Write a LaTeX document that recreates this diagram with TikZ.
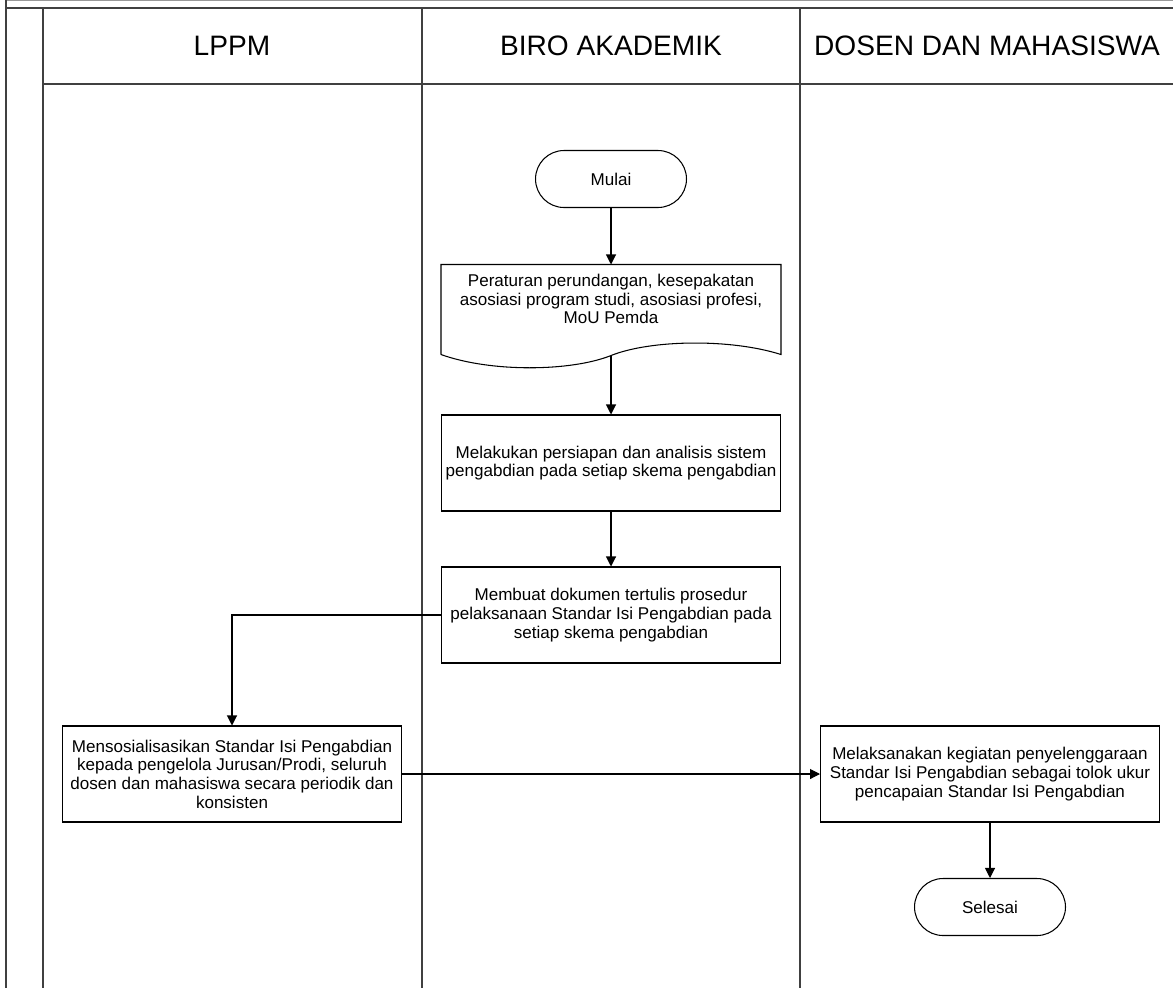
\documentclass[tikz,border=0pt]{standalone}
\usepackage{fontspec}
\setmainfont{Liberation Sans}
\usetikzlibrary{shapes, arrows.meta, positioning, calc}

\begin{document}
\begin{tikzpicture}[
    x=0.02cm, y=-0.02cm,
    lane/.style={draw=black!75, line width=1.1pt},
    head/.style={font=\fontsize{16}{19}\selectfont},
    box/.style={rectangle, draw, line width=0.6pt, minimum width=6.78cm, minimum height=1.92cm, align=center, font=\fontsize{9.7}{10.6}\selectfont, inner sep=2pt},
    term/.style={rectangle, rounded corners=0.57cm, draw, line width=0.6pt, minimum width=3.02cm, minimum height=1.14cm, font=\fontsize{9.7}{10.6}\selectfont},
    arr/.style={line width=0.6pt, -{Triangle[length=0.2cm, width=0.2cm]}}
]
\useasboundingbox (0,0) rectangle (1173,988);
% swimlanes
\draw[black!40, line width=0.5pt] (6,0.5) -- (1173,0.5);
\draw[lane] (6,0) -- (6,988);
\draw[lane] (6,8) -- (1173,8);
\draw[lane] (43,8) -- (43,988);
\draw[lane] (43,84) -- (1173,84);
\draw[lane] (422,8) -- (422,988);
\draw[lane] (800,8) -- (800,988);
\node[head] (hlppm) at (232,46) {LPPM};
\node[head] (hbiro) at (611,46) {BIRO AKADEMIK};
\node[head] (hdosen) at (987,46) {DOSEN DAN MAHASISWA};

% biro akademik
\node[term] (mulai) at (611,179) {Mulai};
\node[box, draw=none, minimum height=1.36cm] (doc) at (611,299) {Peraturan perundangan, kesepakatan\\asosiasi program studi, asosiasi profesi,\\MoU Pemda};
\draw[line width=0.6pt] ($(doc.south west)+(0,21)$) -- (doc.north west) -- (doc.north east) -- ($(doc.south east)+(0,21)$)
    .. controls +(-50,-16) and +(40,-16) .. ($(doc.south)+(0,22)$)
    .. controls +(-40,16) and +(50,18) .. ($(doc.south west)+(0,21)$);
\coordinate (docb) at ($(doc.south)+(0,22)$);
\node[box] (analisis) at (611,463) {Melakukan persiapan dan analisis sistem\\pengabdian pada setiap skema pengabdian};
\node[box] (prosedur) at (611,615) {Membuat dokumen tertulis prosedur\\pelaksanaan Standar Isi Pengabdian pada\\setiap skema pengabdian};

% lppm
\node[box] (sosialisasi) at (232,774) {Mensosialisasikan Standar Isi Pengabdian\\kepada pengelola Jurusan/Prodi, seluruh\\dosen dan mahasiswa secara periodik dan\\konsisten};

% dosen dan mahasiswa
\node[box] (laksana) at (990,774) {Melaksanakan kegiatan penyelenggaraan\\Standar Isi Pengabdian sebagai tolok ukur\\pencapaian Standar Isi Pengabdian};
\node[term] (selesai) at (990,907) {Selesai};

\draw[arr] (mulai.south) -- (doc.north);
\draw[arr] (docb) -- (analisis.north);
\draw[arr] (analisis.south) -- (prosedur.north);
\draw[arr] (prosedur.west) -| (sosialisasi.north);
\draw[arr] (sosialisasi.east) -- (laksana.west);
\draw[arr] (laksana.south) -- (selesai.north);
\end{tikzpicture}
\end{document}
